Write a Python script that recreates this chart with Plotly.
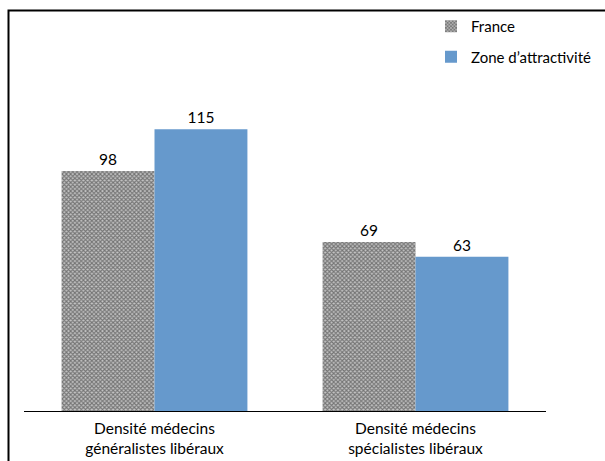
import plotly.graph_objects as go

categories = ["Densité médecins<br>généralistes libéraux", "Densité médecins<br>spécialistes libéraux"]
france = [98, 69]
zone = [115, 63]
series_names = ["France", "Zone d’attractivité"]

W, H = 605, 461
L, R, T, B = 24, 59, 68, 50
FONT = "Lato"
FS = 15.5

fig = go.Figure()
fig.add_trace(go.Bar(
    x=categories, y=france, name=series_names[0], legendgroup="a",
    text=[str(v) for v in france], textposition="outside",
    marker=dict(color="#707070", line=dict(width=0),
                pattern=dict(shape="x", size=3, solidity=0.6,
                             fgcolor="#262626", bgcolor="#c4c4c4")),
    cliponaxis=False,
))
fig.add_trace(go.Bar(
    x=categories, y=zone, name=series_names[1], legendgroup="b",
    text=[str(v) for v in zone], textposition="outside",
    marker=dict(color="#6699cc", line=dict(width=0)),
    cliponaxis=False,
))

pw = W - L - R
ph = H - T - B
# outer frame (its right and bottom edges fall outside the page)
fig.add_shape(type="rect", xref="paper", yref="paper",
              x0=(8.5 - L) / pw, x1=(640 - L) / pw,
              y0=-(480 - (H - B)) / ph, y1=((H - B) - 10.5) / ph,
              line=dict(color="#000000", width=2), fillcolor="rgba(0,0,0,0)",
              layer="below")

fig.update_layout(
    width=W, height=H,
    margin=dict(l=L, r=R, t=T, b=B, pad=0, autoexpand=False),
    paper_bgcolor="white", plot_bgcolor="white",
    barmode="group", bargap=0.288, bargroupgap=0,
    font=dict(family=FONT, size=FS, color="#000000"),
    showlegend=True,
    legend=dict(x=(431 - L) / pw, y=((H - B) - 10) / ph,
                xanchor="left", yanchor="top",
                font=dict(family=FONT, size=15, color="#000000"),
                bgcolor="rgba(0,0,0,0)", itemsizing="constant",
                traceorder="grouped", tracegroupgap=8),
    xaxis=dict(showline=True, linecolor="#000000", linewidth=1.2,
               ticks="", showgrid=False, tickfont=dict(size=FS),
               ticklabelstandoff=3, range=[-0.5, 1.5]),
    yaxis=dict(range=[0, 140], visible=False, showgrid=False),
)

fig.write_html("out.html")
